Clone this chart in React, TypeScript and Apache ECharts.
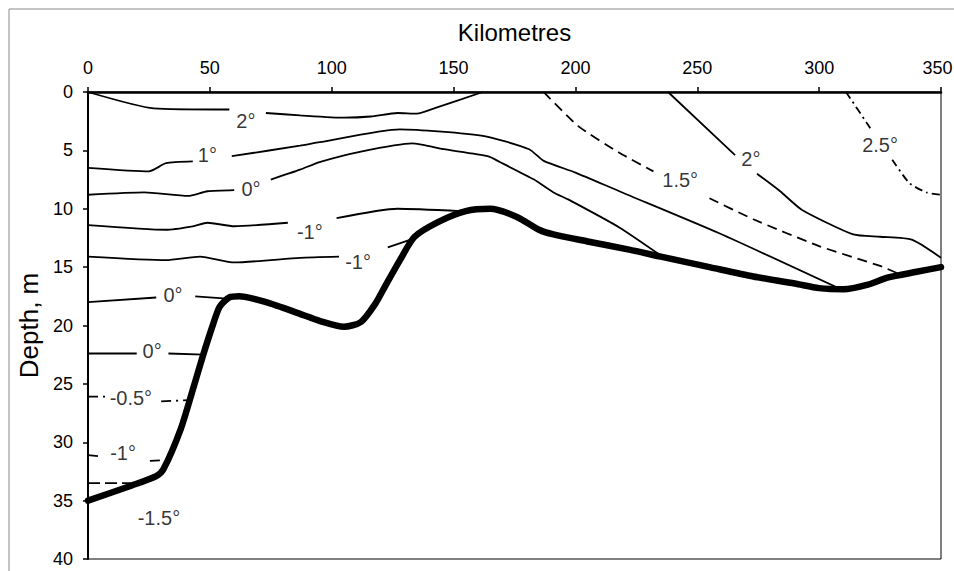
import React, { useEffect, useRef } from "react";
import * as echarts from "echarts";

// ---- Sea-bed profile (thick line) ----
const bedKm = [0, 18, 28, 31, 38, 43, 47, 51, 54, 58, 62, 73, 87, 95, 105, 112, 118, 122, 128, 134, 144, 155, 165, 176, 185, 191, 205, 222, 235, 255, 273, 290, 300, 310, 320, 328, 340, 350];
const bedDepth = [35, 33.7, 32.9, 32.3, 28.9, 25.5, 22.7, 20.1, 18.4, 17.6, 17.5, 18.0, 19.0, 19.6, 20.1, 19.7, 18.1, 16.6, 14.4, 12.4, 11.1, 10.2, 10.0, 10.7, 11.8, 12.2, 12.8, 13.5, 14.1, 15.0, 15.8, 16.4, 16.8, 16.9, 16.5, 15.9, 15.4, 15.0];

// ---- Isotherms: [km, depth]; null marks a break where the label sits ----
type P = [number, number] | null;
const iso2West: P[] = [[0, 0], [27, 1.4], [58, 1.5], null, [73, 1.8], [87, 2.0], [105, 2.2], [116, 2.1], [127, 1.8], [135, 1.85], [142, 1.4], [162, 0]];
const iso1: P[] = [[0, 6.5], [25, 6.8], [32, 6.1], [43, 5.95], null, [59, 5.5], [87, 4.6], [95, 4.3], [128, 3.2], [162, 3.75], [181, 4.9], [187, 5.9], [200, 6.9], [218, 8.5], [259, 12.1], [309, 16.9]];
const iso0North: P[] = [[0, 8.8], [23, 8.6], [41, 8.9], [49, 8.5], [60, 8.4], null, [75, 7.5], [87, 6.65], [95, 6.0], [112, 5.1], [133, 4.4], [146, 4.9], [164, 5.5], [169, 6.0], [183, 7.5], [191, 8.6], [197, 9.2], [218, 11.6], [235, 14.0]];
const isoM1North: P[] = [[0, 11.4], [32, 11.8], [43, 11.5], [49, 11.2], [60, 11.5], [82, 11.2], null, [102, 10.8], [127, 10.0], [153, 10.2]];
const isoM1South: P[] = [[0, 14.1], [32, 14.4], [46, 14.1], [60, 14.6], [87, 14.2], [103, 14.1], null, [123, 13.3], [133, 12.6]];
const iso0Shelf: P[] = [[0, 18], [28, 17.6], null, [44, 17.5], [57, 17.7]];
const iso0Deep: P[] = [[0, 22.4], [20, 22.4], null, [33, 22.4], [47.5, 22.5]];
const isoM05: P[] = [[0, 26.1], [7, 26.1], null, [30, 26.5], [41.5, 26.4]];
const isoM1Deep: P[] = [[0, 31.1], [5, 31.2], null, [25.4, 31.6], [33.5, 31.5]];
const isoM15: P[] = [[0, 33.5], [21, 33.5]];
const iso15: P[] = [[187, 0], [201, 2.9], [218, 5.2], [232, 6.8], null, [255, 9.1], [273, 10.9], [300, 13.2], [325, 14.9], [333, 15.6]];
const iso2East: P[] = [[238, 0], [265.5, 5.4], null, [274.5, 7.0], [284, 8.5], [293, 10.1], [314, 12.2], [325, 12.4], [338, 12.65], [350, 14.2]];
const iso25: P[] = [[311, 0], [321, 3.1], null, [330, 5.8], [337, 7.8], [344, 8.6], [350, 8.8]];

// ---- Contour labels ----
const labelText = ["2°", "1°", "0°", "-1°", "-1°", "0°", "0°", "-0.5°", "-1°", "-1.5°", "1.5°", "2°", "2.5°"];
const labelKm = [64.8, 49, 66.9, 91, 110.8, 34.9, 26.3, 17.6, 14.4, 29.1, 243, 272, 325];
const labelDepth = [2.45, 5.37, 8.3, 11.95, 14.6, 17.35, 22.2, 26.2, 30.9, 36.5, 7.5, 5.7, 4.5];

const KM_MAX = 350;
const FONT = "'Liberation Sans', Arial, sans-serif";

function toData(pts: P[]) {
  return pts.map((p) => (p === null ? ["-", "-"] : p));
}

function iso(pts: P[], dash: any, smooth = 0.2) {
  return {
    type: "line",
    data: toData(pts),
    showSymbol: false,
    symbol: "none",
    connectNulls: false,
    smooth,
    silent: true,
    z: 3,
    lineStyle: { color: "#000", width: 1.8, type: dash },
  };
}

export default function App() {
  const ref = useRef<HTMLDivElement>(null);
  useEffect(() => {
    if (!ref.current) return;
    const chart = echarts.init(ref.current, undefined, { renderer: "svg" });
    const option: any = {
      animation: false,
      backgroundColor: "#fff",
      textStyle: { fontFamily: FONT },
      grid: {
        left: 88,
        right: 13,
        top: 92,
        bottom: 12,
        containLabel: false,
        outerBoundsMode: "none",
        show: true,
        borderColor: "#000",
        borderWidth: 1,
        backgroundColor: "transparent",
      },
      graphic: [
        {
          type: "rect",
          shape: { x: 9, y: 9, width: 960, height: 580 },
          style: { fill: "none", stroke: "#8a8a8a", lineWidth: 1 },
          silent: true,
          z: 0,
        },
      ],
      xAxis: {
        type: "value",
        position: "top",
        min: 0,
        max: KM_MAX,
        interval: 50,
        name: "Kilometres",
        nameLocation: "middle",
        nameGap: 48,
        nameTextStyle: { fontSize: 24, color: "#000", fontFamily: FONT },
        axisLine: { show: true, lineStyle: { color: "#000", width: 2.5 } },
        axisTick: { show: true, inside: false, length: 5, lineStyle: { color: "#000", width: 1.5 } },
        axisLabel: {
          fontSize: 18,
          color: "#000",
          margin: 15,
          fontFamily: FONT,
          formatter: (v: number) => (v === KM_MAX ? "{r|" + v + "}" : String(v)),
          rich: { r: { fontSize: 18, color: "#000", fontFamily: FONT, padding: [0, 7, 0, 0] } },
        },
        splitLine: { show: false },
      },
      yAxis: {
        type: "value",
        inverse: true,
        min: 0,
        max: 40,
        interval: 5,
        name: "Depth, m",
        nameLocation: "middle",
        nameGap: 44,
        nameTextStyle: { fontSize: 26, color: "#000", fontFamily: FONT },
        axisLine: { show: true, lineStyle: { color: "#000", width: 2 } },
        axisTick: { show: true, inside: false, length: 5, lineStyle: { color: "#000", width: 1.5 } },
        axisLabel: { fontSize: 18, color: "#000", margin: 15, fontFamily: FONT },
        splitLine: { show: false },
      },
      series: [
        iso(iso2West, "solid"),
        iso(iso1, "solid"),
        iso(iso0North, "solid"),
        iso(isoM1North, "solid"),
        iso(isoM1South, "solid"),
        iso(iso0Shelf, "solid"),
        iso(iso0Deep, "solid"),
        iso(isoM05, [10, 5, 2, 5], 0),
        iso(isoM1Deep, [10, 6], 0),
        iso(isoM15, [12, 5], 0),
        iso(iso15, [10, 6]),
        iso(iso2East, "solid"),
        iso(iso25, [8, 4, 2, 4]),
        {
          type: "line",
          data: bedKm.map((k, i) => [k, bedDepth[i]]),
          showSymbol: false,
          symbol: "none",
          smooth: 0.25,
          silent: true,
          z: 5,
          lineStyle: { color: "#000", width: 6.5, cap: "round", join: "round" },
        },
        {
          type: "scatter",
          data: labelKm.map((k, i) => ({ value: [k, labelDepth[i]], name: labelText[i] })),
          symbolSize: 1,
          itemStyle: { color: "transparent" },
          silent: true,
          z: 10,
          label: {
            show: true,
            position: "inside",
            formatter: "{b}",
            fontSize: 20,
            color: "#000",
            fontFamily: FONT,
          },
        },
      ],
    };
    chart.setOption(option);
    return () => chart.dispose();
  }, []);
  return (
    <div
      ref={ref}
      style={{ position: "fixed", left: 0, top: 0, width: 954, height: 571, background: "#fff" }}
    />
  );
}
